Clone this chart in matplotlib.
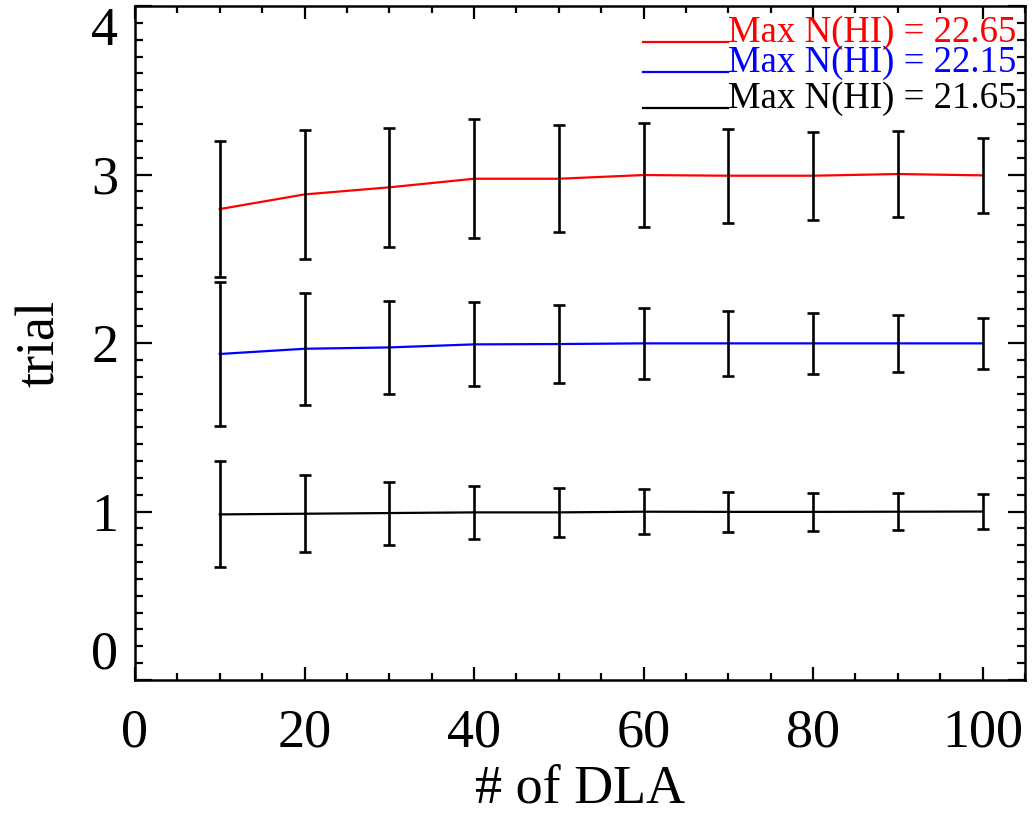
import matplotlib
matplotlib.use("Agg")
import matplotlib.pyplot as plt
import numpy as np

plt.rcParams['font.family'] = ['Liberation Serif', 'DejaVu Serif']

n_dla = [10, 20, 30, 40, 50, 60, 70, 80, 90, 100]

trial_2265 = [2.795, 2.882, 2.924, 2.975, 2.975, 2.997, 2.993, 2.993, 3.003, 2.995]
err_2265 = [0.405, 0.385, 0.354, 0.354, 0.318, 0.311, 0.279, 0.260, 0.255, 0.223]

trial_2215 = [1.935, 1.966, 1.974, 1.992, 1.994, 1.998, 1.998, 1.998, 1.998, 1.998]
err_2215 = [0.425, 0.333, 0.277, 0.249, 0.230, 0.209, 0.192, 0.179, 0.171, 0.152]

trial_2165 = [0.983, 0.987, 0.991, 0.995, 0.995, 0.999, 0.998, 0.998, 0.999, 1.000]
err_2165 = [0.314, 0.228, 0.187, 0.157, 0.145, 0.132, 0.120, 0.112, 0.109, 0.102]

labels = ["Max N(HI) = 22.65", "Max N(HI) = 22.15", "Max N(HI) = 21.65"]
colors = ["red", "blue", "black"]

fig = plt.figure(figsize=(10.32, 8.15), dpi=100)
ax = fig.add_axes([0.1308, 0.1656, 0.8624, 0.827])

series = [(trial_2265, err_2265), (trial_2215, err_2215), (trial_2165, err_2165)]
for (y, e), c in zip(series, colors):
    ax.plot(n_dla, y, color=c, lw=1.6, zorder=2)
for (y, e), c in zip(series, colors):
    ax.errorbar(n_dla, y, yerr=e, fmt='none', ecolor='black', elinewidth=1.9,
                capsize=4.5, capthick=1.9, zorder=3)

ax.set_xlim(0, 105)
ax.set_ylim(0, 4)
ax.set_xticks([0, 20, 40, 60, 80, 100])
ax.set_xticks(np.arange(0, 106, 5), minor=True)
ax.set_yticks([0, 1, 2, 3, 4])
ax.set_yticks(np.arange(0, 4.01, 0.1), minor=True)

for s in ax.spines.values():
    s.set_linewidth(1.8)

ax.tick_params(axis='both', which='both', direction='in', top=True, right=True,
               width=1.6, labelsize=39)
ax.tick_params(axis='x', which='major', length=9.5, pad=20)
ax.tick_params(axis='x', which='minor', length=5)
ax.tick_params(axis='y', which='major', length=12, pad=12)
ax.tick_params(axis='y', which='minor', length=5.8)

ylabs = ax.get_yticklabels()
ylabs[0].set_va('bottom')
ylabs[-1].set_va('top')

ax.set_xlabel("# of DLA", fontsize=39, labelpad=4)
ax.set_ylabel("trial", fontsize=39, labelpad=18)

# legend drawn manually
ys = [0.947, 0.9025, 0.849]
for lab, c, yy in zip(labels, colors, ys):
    ax.plot([0.571, 0.666], [yy, yy], color=c, lw=1.6, transform=ax.transAxes,
            clip_on=False)
    ax.text(0.666, yy, lab, color=c, fontsize=26.5, transform=ax.transAxes,
            ha='left', va='baseline')

fig.savefig("out.png", dpi=100)
